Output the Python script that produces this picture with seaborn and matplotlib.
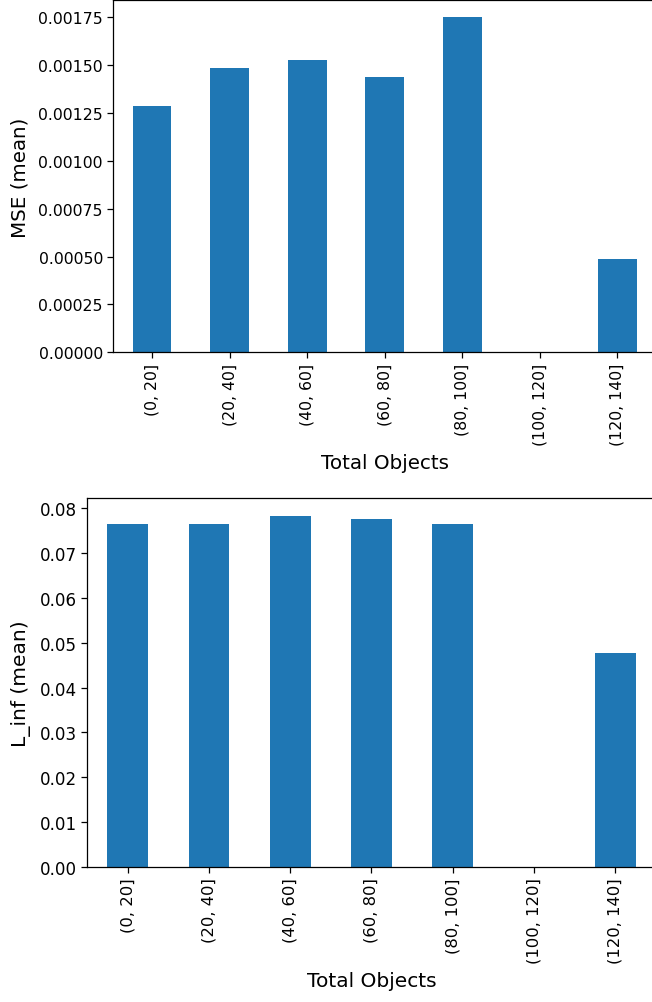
import numpy as np
import pandas as pd
import matplotlib
matplotlib.use("Agg")
import matplotlib.pyplot as plt
import seaborn as sns

# Binned object counts and the per-bin mean errors
bins = ["(0, 20]", "(20, 40]", "(40, 60]", "(60, 80]", "(80, 100]", "(100, 120]", "(120, 140]"]
mse_mean = [0.001288, 0.001484, 0.001527, 0.001440, 0.001750, np.nan, 0.000487]
linf_mean = [0.0766, 0.0766, 0.0784, 0.0776, 0.0765, np.nan, 0.0477]

df = pd.DataFrame({"bin": bins, "mse": mse_mean, "linf": linf_mean})

sns.set_style("ticks")
plt.rcParams["font.family"] = ["DejaVu Sans"]
for key in ["text.color", "axes.labelcolor", "xtick.color", "ytick.color", "axes.edgecolor"]:
    plt.rcParams[key] = "black"
plt.rcParams["xtick.major.size"] = 4
plt.rcParams["ytick.major.size"] = 4
plt.rcParams["xtick.major.width"] = 0.9
plt.rcParams["ytick.major.width"] = 0.9
plt.rcParams["axes.linewidth"] = 0.9

BLUE = "#1f77b4"

fig = plt.figure(figsize=(6.52, 10.03), dpi=100)
ax1 = fig.add_axes([0.1738, 0.6478, 0.8324, 0.3508])
ax2 = fig.add_axes([0.1334, 0.1349, 0.8727, 0.3676])

panels = [
    (ax1, "mse", "MSE (mean)", 11.3, 11.3, 14.3),
    (ax2, "linf", "L_inf (mean)", 11.8, 12.1, 14.5),
]
for ax, col, ylabel, xfs, yfs, lfs in panels:
    sns.barplot(data=df, x="bin", y=col, order=bins, ax=ax, color=BLUE,
                saturation=1, width=0.5, linewidth=0, errorbar=None)
    ax.set_xlim(-0.5, len(bins) - 0.5)
    top = np.nanmax(df[col].values)
    ax.set_ylim(0, top * 1.05)
    ax.set_xlabel("Total Objects", fontsize=lfs, labelpad=6)
    ax.set_ylabel(ylabel, fontsize=lfs, labelpad=6)
    ax.tick_params(axis="x", labelrotation=90, labelsize=xfs)
    ax.tick_params(axis="y", labelsize=yfs)
    for s in ax.spines.values():
        s.set_visible(True)
        s.set_color("black")

ax1.set_yticks(np.arange(0, 0.00176, 0.00025))
ax1.yaxis.set_major_formatter(matplotlib.ticker.FormatStrFormatter("%.5f"))
ax2.set_yticks(np.arange(0, 0.081, 0.01))
ax2.yaxis.set_major_formatter(matplotlib.ticker.FormatStrFormatter("%.2f"))

fig.savefig("out.png", dpi=100)
